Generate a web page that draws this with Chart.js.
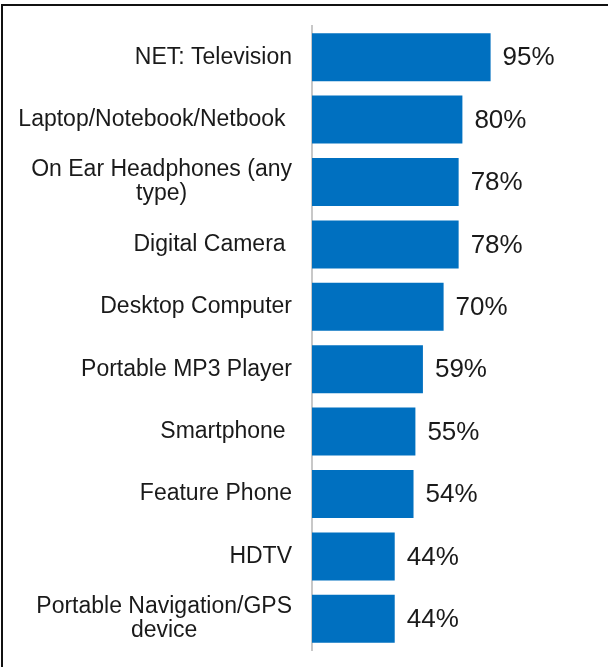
<!DOCTYPE html>
<html>
<head>
<meta charset="utf-8">
<script src="https://cdn.jsdelivr.net/npm/chart.js@4.4.1/dist/chart.umd.min.js"></script>
<style>
    html, body { margin: 0; padding: 0; background: #fff; }
    body { width: 608px; height: 667px; position: relative; overflow: hidden; }
    .frame {
        position: absolute; left: 1px; top: 4px; width: 620px; height: 680px;
        border-top: 2px solid #111; border-left: 2px solid #111;
    }
    #wrap { position: absolute; left: 0; top: 0; width: 608px; height: 667px; }
</style>
</head>
<body>
<div class="frame"></div>
<div id="wrap"><canvas id="ownershipChart"></canvas></div>
<script>
// device ownership, % of respondents
const devices = [
    ['NET: Television'],
    ['Laptop/Notebook/Netbook '],
    ['On Ear Headphones (any', 'type)'],
    ['Digital Camera '],
    ['Desktop Computer'],
    ['Portable MP3 Player'],
    ['Smartphone '],
    ['Feature Phone'],
    ['HDTV'],
    ['Portable Navigation/GPS', 'device']
];
const ownership = [95, 80, 78, 78, 70, 59, 55, 54, 44, 44];

const BLUE = '#0070C0';
const TEXT = '#1A1A1A';

// category names: lines centred inside a block that sits right-aligned to the axis
const categoryLabels = {
    id: 'categoryLabels',
    afterDraw(chart) {
        const ctx = chart.ctx;
        const y = chart.scales.y;
        const right = chart.chartArea.left - 20;
        const lineH = 24;
        ctx.save();
        ctx.font = '23px "Liberation Sans", Arial, sans-serif';
        ctx.fillStyle = TEXT;
        ctx.textAlign = 'center';
        ctx.textBaseline = 'middle';
        devices.forEach((lines, i) => {
            const cy = y.getPixelForValue(i);
            const blockW = Math.max(...lines.map(l => ctx.measureText(l).width));
            const cx = right - blockW / 2;
            const top = cy - (lines.length - 1) * lineH / 2;
            lines.forEach((l, k) => ctx.fillText(l, cx, top + k * lineH));
        });
        ctx.restore();
    }
};

// percentage at the end of each bar
const valueLabels = {
    id: 'valueLabels',
    afterDatasetsDraw(chart) {
        const ctx = chart.ctx;
        const meta = chart.getDatasetMeta(0);
        ctx.save();
        ctx.font = '26px "Liberation Sans", Arial, sans-serif';
        ctx.fillStyle = TEXT;
        ctx.textAlign = 'left';
        ctx.textBaseline = 'middle';
        meta.data.forEach((bar, i) => {
            ctx.fillText(ownership[i] + '%', bar.x + 12, bar.y + 1);
        });
        ctx.restore();
    }
};

new Chart(document.getElementById('ownershipChart'), {
    type: 'bar',
    data: {
        labels: devices,
        datasets: [{
            data: ownership,
            backgroundColor: BLUE,
            borderWidth: 0,
            barPercentage: 0.77,
            categoryPercentage: 1.0
        }]
    },
    options: {
        indexAxis: 'y',
        responsive: true,
        maintainAspectRatio: false,
        animation: false,
        layout: {
            padding: { top: 26, bottom: 17, left: 0, right: 108 }
        },
        plugins: {
            legend: { display: false },
            tooltip: { enabled: false }
        },
        scales: {
            x: {
                display: false,
                min: 0,
                max: 100
            },
            y: {
                ticks: { display: false },
                grid: { display: false, drawTicks: false },
                border: { display: true, color: '#C8C8C8', width: 2 },
                afterFit(scale) { scale.width = 312; }
            }
        }
    },
    plugins: [categoryLabels, valueLabels]
});
</script>
</body>
</html>
